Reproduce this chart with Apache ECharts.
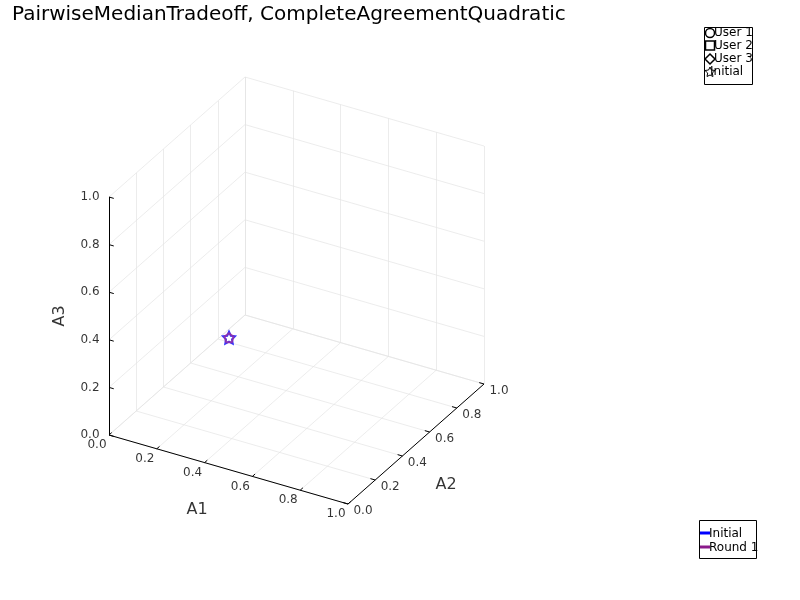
<!DOCTYPE html>
<html>
<head>
<meta charset="utf-8">
<script src="https://cdn.jsdelivr.net/npm/echarts@6/dist/echarts.min.js"></script>
<style>body{margin:0}#c{width:800px;height:600px}</style>
</head>
<body>
<div id="c"></div>
<script>
// data
var ticks = [0, 0.2, 0.4, 0.6, 0.8, 1.0];
var tickLabels = ['0.0', '0.2', '0.4', '0.6', '0.8', '1.0'];
var initialPoint = [0.32, 0.32, 0.34];
var users = ['User 1', 'User 2', 'User 3', 'Initial'];
var rounds = ['Initial', 'Round 1'];

// 3d -> screen projection (fixed camera like the original)
function proj(a1, a2, a3) {
    return [109 + 239 * a1 + 136 * a2, 435 + 69 * a1 - 120 * a2 - 238 * a3];
}

var grid = [];
ticks.forEach(function (t) {
    // floor
    grid.push({coords: [proj(t, 0, 0), proj(t, 1, 0)]});
    grid.push({coords: [proj(0, t, 0), proj(1, t, 0)]});
    // back wall a2=1
    grid.push({coords: [proj(t, 1, 0), proj(t, 1, 1)]});
    grid.push({coords: [proj(0, 1, t), proj(1, 1, t)]});
    // left wall a1=0
    grid.push({coords: [proj(0, t, 0), proj(0, t, 1)]});
    grid.push({coords: [proj(0, 0, t), proj(0, 1, t)]});
});

var axes = [
    {coords: [proj(0, 0, 0), proj(1, 0, 0)]},
    {coords: [proj(1, 0, 0), proj(1, 1, 0)]},
    {coords: [proj(0, 0, 0), proj(0, 0, 1)]}
];
ticks.forEach(function (t) {
    axes.push({coords: [proj(t, 0, 0), proj(t, 0.02, 0)]});
    axes.push({coords: [proj(1, t, 0), proj(0.98, t, 0)]});
    axes.push({coords: [proj(0, 0, t), proj(0.02, 0, t)]});
});

var labels = [];
ticks.forEach(function (t, i) {
    var p = proj(t, 0, 0);
    labels.push({value: [p[0] - 12, p[1] + 10], label: {formatter: tickLabels[i]}});
    p = proj(1, t, 0);
    labels.push({value: [p[0] + 15, p[1] + 7], label: {formatter: tickLabels[i]}});
    p = proj(0, 0, t);
    labels.push({value: [p[0] - 19, p[1]], label: {formatter: tickLabels[i]}});
});

var pt = proj(initialPoint[0], initialPoint[1], initialPoint[2]);
var font = 'DejaVu Sans';

function txt(x, y, s) {
    return {type: 'text', x: x, y: y, style: {text: s, fontSize: 12, fill: '#000', verticalAlign: 'middle', fontFamily: font}};
}

var chart = echarts.init(document.getElementById('c'));
chart.setOption({
    animation: false,
    textStyle: {fontFamily: font},
    title: {text: 'PairwiseMedianTradeoff, CompleteAgreementQuadratic', left: 7, top: 0,
        textStyle: {fontSize: 20, fontWeight: 'normal', color: '#000', fontFamily: font}},
    grid: {left: 0, top: 0, width: 800, height: 600},
    xAxis: {type: 'value', min: 0, max: 800, show: false},
    yAxis: {type: 'value', min: 0, max: 600, inverse: true, show: false},
    series: [
        {type: 'lines', coordinateSystem: 'cartesian2d', data: grid, silent: true,
            lineStyle: {color: '#e4e4e4', width: 0.7, opacity: 1}},
        {type: 'lines', coordinateSystem: 'cartesian2d', data: axes, silent: true,
            lineStyle: {color: '#000', width: 1, opacity: 1}},
        {type: 'scatter', data: labels, symbolSize: 0, silent: true,
            label: {show: true, position: 'inside', color: '#000', fontSize: 12}},
        {type: 'scatter', silent: true, symbolSize: 0,
            data: [
                {value: [197, 510], label: {formatter: 'A1'}},
                {value: [446, 485], label: {formatter: 'A2'}},
                {value: [60, 316], label: {formatter: 'A3', rotate: 90}}
            ],
            label: {show: true, position: 'inside', color: '#000', fontSize: 16}},
        {type: 'scatter', silent: true, data: [pt], symbol: 'path://M0,-10 L2.9,-4 9.5,-3.1 4.8,1.5 5.9,8.1 0,5 -5.9,8.1 -4.8,1.5 -9.5,-3.1 -2.9,-4Z',
            symbolSize: 12, itemStyle: {color: '#fff', borderColor: '#0000ff', borderWidth: 2}},
        {type: 'scatter', silent: true, data: [pt], symbol: 'path://M0,-10 L9.5,-3.1 5.9,8.1 -5.9,8.1 -9.5,-3.1Z',
            symbolSize: 9, itemStyle: {color: 'rgba(0,0,0,0)', borderColor: '#9a2fa0', borderWidth: 2}}
    ],
    graphic: [
        {type: 'rect', shape: {x: 704.5, y: 27.5, width: 48, height: 57}, style: {fill: '#fff', stroke: '#000', lineWidth: 1}},
        {type: 'circle', shape: {cx: 710, cy: 33, r: 4.5}, style: {fill: '#fff', stroke: '#000', lineWidth: 1.5}},
        {type: 'rect', shape: {x: 705.5, y: 41, width: 9, height: 9}, style: {fill: '#fff', stroke: '#000', lineWidth: 1.5}},
        {type: 'polygon', shape: {points: [[710, 54], [715, 59], [710, 64], [705, 59]]}, style: {fill: '#fff', stroke: '#000', lineWidth: 1.5}},
        {type: 'polygon', shape: {points: [[710, 67], [711.4, 70], [715, 70.5], [712.3, 73], [713, 76.5], [710, 75], [707, 76.5], [707.7, 73], [705, 70.5], [708.6, 70]]}, style: {fill: '#fff', stroke: '#000', lineWidth: 1}},
        txt(714, 33, users[0]), txt(714, 46, users[1]), txt(714, 59, users[2]), txt(710, 72, users[3]),
        {type: 'rect', shape: {x: 699.5, y: 520.5, width: 57, height: 38}, style: {fill: '#fff', stroke: '#000', lineWidth: 1}},
        {type: 'line', shape: {x1: 700, y1: 533, x2: 710, y2: 533}, style: {stroke: '#0000ff', lineWidth: 3}},
        {type: 'line', shape: {x1: 700, y1: 547, x2: 710, y2: 547}, style: {stroke: '#8b1a8b', lineWidth: 3}},
        txt(709, 534, rounds[0]), txt(709, 548, rounds[1])
    ]
});
</script>
</body>
</html>
